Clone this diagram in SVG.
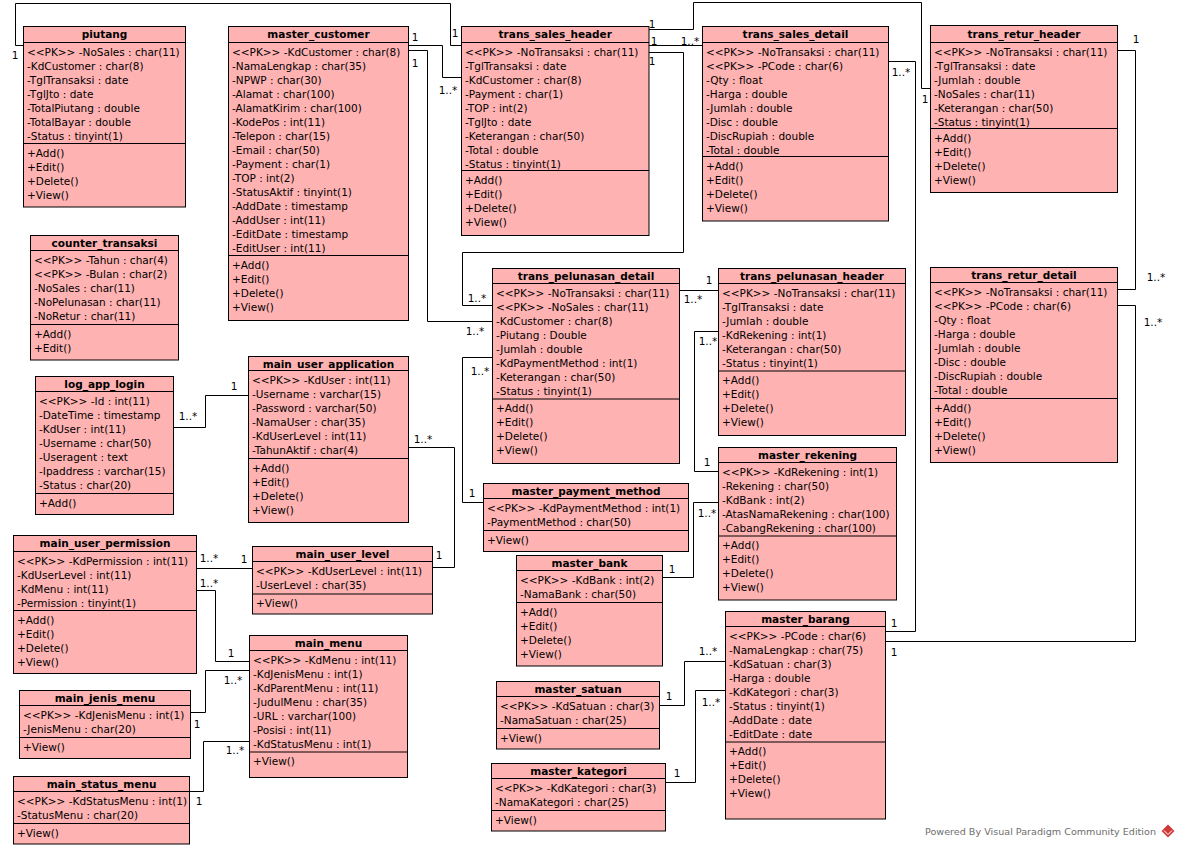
<svg xmlns="http://www.w3.org/2000/svg" width="1180" height="848" viewBox="0 0 1180 848">
<style>
.node rect{fill:#FFB2B2;stroke:#000;stroke-width:1}
.node path{stroke:#000;stroke-width:1;fill:none}
text{font-family:"DejaVu Sans","Liberation Sans",sans-serif;font-size:10.5px;fill:#000}
.h{font-weight:bold;text-anchor:middle}
.conn path{stroke:#000;stroke-width:1;fill:none}
.lbl text{text-anchor:middle}
.wm{font-size:9.5px;fill:#6e6e6e}
</style>
<rect width="1180" height="848" fill="#fff"/>
<g id="connectors" class="conn">
<path d="M23.5 45.5H15.5V3.5H450.5V45.5H461.5"/>
<path d="M408.5 45.5H442.5V77.5H461.5"/>
<path d="M408.5 50.5H427.5V321.5H492.5"/>
<path d="M649 45.5H702.5"/>
<path d="M649 29.5H693.5V2.5H921.5V88.5H930.5"/>
<path d="M649 52.5H683.5V252.5H462.5V305.5H492.5"/>
<path d="M888.5 61.5H915.5V631.5H885.5"/>
<path d="M1117.5 50.5H1135.5V289.5H1117.5"/>
<path d="M1117.5 305.5H1135.5V641.5H885.5"/>
<path d="M679.5 290.5H718.5"/>
<path d="M718.5 331.5H694.5V471.5H718.5"/>
<path d="M492.5 357.5H462.5V502.5H483.5"/>
<path d="M718.5 502.5H693.5V577.5H662.5"/>
<path d="M725.5 661.5H684.5V705.5H659.5"/>
<path d="M725.5 690.5H695.5V782.5H665.5"/>
<path d="M173.5 427.5H205.5V395.5H248.5"/>
<path d="M408.5 447.5H454.5V567.5H432.5"/>
<path d="M196.5 568.5H252.5"/>
<path d="M196.5 590.5H215.5V661.5H249.5"/>
<path d="M190.5 712.5H205.5V670.5H249.5"/>
<path d="M189.5 791.5H203.5V741.5H249.5"/>
<g class="lbl">
<text x="15" y="59">1</text><text x="455" y="37">1</text>
<text x="415" y="41">1</text><text x="448" y="94">1..*</text>
<text x="415" y="67">1</text><text x="475" y="335">1..*</text>
<text x="654" y="44.5">1</text><text x="690" y="45">1..*</text>
<text x="652" y="27.5">1</text><text x="925" y="103">1</text>
<text x="652" y="65">1</text><text x="477" y="302">1..*</text>
<text x="901" y="76">1..*</text><text x="894" y="627">1</text>
<text x="1136" y="43">1</text><text x="1156" y="281">1..*</text>
<text x="1153" y="326">1..*</text><text x="894" y="656">1</text>
<text x="709" y="284">1</text><text x="693" y="303">1..*</text>
<text x="708" y="345">1..*</text><text x="707" y="466">1</text>
<text x="480" y="375">1..*</text><text x="472" y="497">1</text>
<text x="707" y="517">1..*</text><text x="672" y="573">1</text>
<text x="708" y="655">1..*</text><text x="669" y="700">1</text>
<text x="711" y="706">1..*</text><text x="677" y="777">1</text>
<text x="188" y="420">1..*</text><text x="234" y="390">1</text>
<text x="423" y="443">1..*</text><text x="439" y="559">1</text>
<text x="209" y="562">1..*</text><text x="244" y="563">1</text>
<text x="209" y="587">1..*</text><text x="231" y="657">1</text>
<text x="233" y="684">1..*</text><text x="197" y="728">1</text>
<text x="235" y="754">1..*</text><text x="199" y="805">1</text>
</g>
</g>

<g id="piutang" class="node">
<rect x="23.5" y="26.5" width="162" height="180.5"/>
<path d="M23.5 42.5H185.5M23.5 143.5H185.5"/>
<text class="h" x="104.5" y="38">piutang</text>
<text x="27" y="55.5">&lt;&lt;PK&gt;&gt; -NoSales : char(11)</text>
<text x="27" y="69.5">-KdCustomer : char(8)</text>
<text x="27" y="83.5">-TglTransaksi : date</text>
<text x="27" y="97.5">-TglJto : date</text>
<text x="27" y="111.5">-TotalPiutang : double</text>
<text x="27" y="125.5">-TotalBayar : double</text>
<text x="27" y="139.5">-Status : tinyint(1)</text>
<text x="27" y="156.5">+Add()</text>
<text x="27" y="170.5">+Edit()</text>
<text x="27" y="184.5">+Delete()</text>
<text x="27" y="198.5">+View()</text>
</g>

<g id="master_customer" class="node">
<rect x="228.5" y="26.5" width="180" height="294"/>
<path d="M228.5 42.5H408.5M228.5 255.5H408.5"/>
<text class="h" x="318.5" y="38">master_customer</text>
<text x="232" y="55.5">&lt;&lt;PK&gt;&gt; -KdCustomer : char(8)</text>
<text x="232" y="69.5">-NamaLengkap : char(35)</text>
<text x="232" y="83.5">-NPWP : char(30)</text>
<text x="232" y="97.5">-Alamat : char(100)</text>
<text x="232" y="111.5">-AlamatKirim : char(100)</text>
<text x="232" y="125.5">-KodePos : int(11)</text>
<text x="232" y="139.5">-Telepon : char(15)</text>
<text x="232" y="153.5">-Email : char(50)</text>
<text x="232" y="167.5">-Payment : char(1)</text>
<text x="232" y="181.5">-TOP : int(2)</text>
<text x="232" y="195.5">-StatusAktif : tinyint(1)</text>
<text x="232" y="209.5">-AddDate : timestamp</text>
<text x="232" y="223.5">-AddUser : int(11)</text>
<text x="232" y="237.5">-EditDate : timestamp</text>
<text x="232" y="251.5">-EditUser : int(11)</text>
<text x="232" y="268.5">+Add()</text>
<text x="232" y="282.5">+Edit()</text>
<text x="232" y="296.5">+Delete()</text>
<text x="232" y="310.5">+View()</text>
</g>

<g id="trans_sales_header" class="node">
<rect x="461.5" y="26.5" width="187.5" height="209"/>
<path d="M461.5 42.5H649M461.5 170.5H649"/>
<text class="h" x="555.25" y="38">trans_sales_header</text>
<text x="465" y="55.5">&lt;&lt;PK&gt;&gt; -NoTransaksi : char(11)</text>
<text x="465" y="69.5">-TglTransaksi : date</text>
<text x="465" y="83.5">-KdCustomer : char(8)</text>
<text x="465" y="97.5">-Payment : char(1)</text>
<text x="465" y="111.5">-TOP : int(2)</text>
<text x="465" y="125.5">-TglJto : date</text>
<text x="465" y="139.5">-Keterangan : char(50)</text>
<text x="465" y="153.5">-Total : double</text>
<text x="465" y="167.5">-Status : tinyint(1)</text>
<text x="465" y="183.5">+Add()</text>
<text x="465" y="197.5">+Edit()</text>
<text x="465" y="211.5">+Delete()</text>
<text x="465" y="225.5">+View()</text>
</g>

<g id="trans_sales_detail" class="node">
<rect x="702.5" y="26.5" width="186" height="194.5"/>
<path d="M702.5 42.5H888.5M702.5 156.5H888.5"/>
<text class="h" x="795.5" y="38">trans_sales_detail</text>
<text x="706" y="55.5">&lt;&lt;PK&gt;&gt; -NoTransaksi : char(11)</text>
<text x="706" y="69.5">&lt;&lt;PK&gt;&gt; -PCode : char(6)</text>
<text x="706" y="83.5">-Qty : float</text>
<text x="706" y="97.5">-Harga : double</text>
<text x="706" y="111.5">-Jumlah : double</text>
<text x="706" y="125.5">-Disc : double</text>
<text x="706" y="139.5">-DiscRupiah : double</text>
<text x="706" y="153.5">-Total : double</text>
<text x="706" y="169.5">+Add()</text>
<text x="706" y="183.5">+Edit()</text>
<text x="706" y="197.5">+Delete()</text>
<text x="706" y="211.5">+View()</text>
</g>

<g id="trans_retur_header" class="node">
<rect x="930.5" y="25.5" width="187" height="167"/>
<path d="M930.5 42.5H1117.5M930.5 128.5H1117.5"/>
<text class="h" x="1024" y="37.5">trans_retur_header</text>
<text x="934" y="55.5">&lt;&lt;PK&gt;&gt; -NoTransaksi : char(11)</text>
<text x="934" y="69.5">-TglTransaksi : date</text>
<text x="934" y="83.5">-Jumlah : double</text>
<text x="934" y="97.5">-NoSales : char(11)</text>
<text x="934" y="111.5">-Keterangan : char(50)</text>
<text x="934" y="125.5">-Status : tinyint(1)</text>
<text x="934" y="141.5">+Add()</text>
<text x="934" y="155.5">+Edit()</text>
<text x="934" y="169.5">+Delete()</text>
<text x="934" y="183.5">+View()</text>
</g>

<g id="counter_transaksi" class="node">
<rect x="30.5" y="235.5" width="148" height="124.5"/>
<path d="M30.5 250.5H178.5M30.5 324.5H178.5"/>
<text class="h" x="104.5" y="247">counter_transaksi</text>
<text x="34" y="263.5">&lt;&lt;PK&gt;&gt; -Tahun : char(4)</text>
<text x="34" y="277.5">&lt;&lt;PK&gt;&gt; -Bulan : char(2)</text>
<text x="34" y="291.5">-NoSales : char(11)</text>
<text x="34" y="305.5">-NoPelunasan : char(11)</text>
<text x="34" y="319.5">-NoRetur : char(11)</text>
<text x="34" y="337.5">+Add()</text>
<text x="34" y="351.5">+Edit()</text>
</g>

<g id="log_app_login" class="node">
<rect x="35.5" y="376.5" width="138" height="138"/>
<path d="M35.5 391.5H173.5M35.5 493.5H173.5"/>
<text class="h" x="104.5" y="388">log_app_login</text>
<text x="39" y="404.5">&lt;&lt;PK&gt;&gt; -Id : int(11)</text>
<text x="39" y="418.5">-DateTime : timestamp</text>
<text x="39" y="432.5">-KdUser : int(11)</text>
<text x="39" y="446.5">-Username : char(50)</text>
<text x="39" y="460.5">-Useragent : text</text>
<text x="39" y="474.5">-Ipaddress : varchar(15)</text>
<text x="39" y="488.5">-Status : char(20)</text>
<text x="39" y="506.5">+Add()</text>
</g>

<g id="main_user_application" class="node">
<rect x="248.5" y="356.5" width="160" height="166"/>
<path d="M248.5 370.5H408.5M248.5 458.5H408.5"/>
<text class="h" x="328.5" y="367.5">main_user_application</text>
<text x="252" y="383.5">&lt;&lt;PK&gt;&gt; -KdUser : int(11)</text>
<text x="252" y="397.5">-Username : varchar(15)</text>
<text x="252" y="411.5">-Password : varchar(50)</text>
<text x="252" y="425.5">-NamaUser : char(35)</text>
<text x="252" y="439.5">-KdUserLevel : int(11)</text>
<text x="252" y="453.5">-TahunAktif : char(4)</text>
<text x="252" y="471.5">+Add()</text>
<text x="252" y="485.5">+Edit()</text>
<text x="252" y="499.5">+Delete()</text>
<text x="252" y="513.5">+View()</text>
</g>

<g id="trans_pelunasan_detail" class="node">
<rect x="492.5" y="268.5" width="187" height="195"/>
<path d="M492.5 283.5H679.5M492.5 399H679.5"/>
<text class="h" x="586" y="280">trans_pelunasan_detail</text>
<text x="496" y="296.5">&lt;&lt;PK&gt;&gt; -NoTransaksi : char(11)</text>
<text x="496" y="310.5">&lt;&lt;PK&gt;&gt; -NoSales : char(11)</text>
<text x="496" y="324.5">-KdCustomer : char(8)</text>
<text x="496" y="338.5">-Piutang : Double</text>
<text x="496" y="352.5">-Jumlah : double</text>
<text x="496" y="366.5">-KdPaymentMethod : int(1)</text>
<text x="496" y="380.5">-Keterangan : char(50)</text>
<text x="496" y="394.5">-Status : tinyint(1)</text>
<text x="496" y="412">+Add()</text>
<text x="496" y="426">+Edit()</text>
<text x="496" y="440">+Delete()</text>
<text x="496" y="454">+View()</text>
</g>

<g id="trans_pelunasan_header" class="node">
<rect x="718.5" y="268.5" width="187" height="167"/>
<path d="M718.5 283.5H905.5M718.5 371H905.5"/>
<text class="h" x="812" y="280">trans_pelunasan_header</text>
<text x="722" y="296.5">&lt;&lt;PK&gt;&gt; -NoTransaksi : char(11)</text>
<text x="722" y="310.5">-TglTransaksi : date</text>
<text x="722" y="324.5">-Jumlah : double</text>
<text x="722" y="338.5">-KdRekening : int(1)</text>
<text x="722" y="352.5">-Keterangan : char(50)</text>
<text x="722" y="366.5">-Status : tinyint(1)</text>
<text x="722" y="384">+Add()</text>
<text x="722" y="398">+Edit()</text>
<text x="722" y="412">+Delete()</text>
<text x="722" y="426">+View()</text>
</g>

<g id="master_rekening" class="node">
<rect x="718.5" y="447.5" width="178" height="152.5"/>
<path d="M718.5 462.5H896.5M718.5 536H896.5"/>
<text class="h" x="807.5" y="459">master_rekening</text>
<text x="722" y="475.5">&lt;&lt;PK&gt;&gt; -KdRekening : int(1)</text>
<text x="722" y="489.5">-Rekening : char(50)</text>
<text x="722" y="503.5">-KdBank : int(2)</text>
<text x="722" y="517.5">-AtasNamaRekening : char(100)</text>
<text x="722" y="531.5">-CabangRekening : char(100)</text>
<text x="722" y="549">+Add()</text>
<text x="722" y="563">+Edit()</text>
<text x="722" y="577">+Delete()</text>
<text x="722" y="591">+View()</text>
</g>

<g id="master_payment_method" class="node">
<rect x="483.5" y="483.5" width="205" height="68"/>
<path d="M483.5 498.5H688.5M483.5 530.5H688.5"/>
<text class="h" x="586" y="495">master_payment_method</text>
<text x="487" y="511.5">&lt;&lt;PK&gt;&gt; -KdPaymentMethod : int(1)</text>
<text x="487" y="525.5">-PaymentMethod : char(50)</text>
<text x="487" y="543.5">+View()</text>
</g>

<g id="master_bank" class="node">
<rect x="516.5" y="555.5" width="146" height="110.5"/>
<path d="M516.5 570.5H662.5M516.5 602.5H662.5"/>
<text class="h" x="589.5" y="567">master_bank</text>
<text x="520" y="583.5">&lt;&lt;PK&gt;&gt; -KdBank : int(2)</text>
<text x="520" y="597.5">-NamaBank : char(50)</text>
<text x="520" y="615.5">+Add()</text>
<text x="520" y="629.5">+Edit()</text>
<text x="520" y="643.5">+Delete()</text>
<text x="520" y="657.5">+View()</text>
</g>

<g id="master_satuan" class="node">
<rect x="496.5" y="681.5" width="163" height="67.5"/>
<path d="M496.5 696.5H659.5M496.5 728.5H659.5"/>
<text class="h" x="578" y="693">master_satuan</text>
<text x="500" y="709.5">&lt;&lt;PK&gt;&gt; -KdSatuan : char(3)</text>
<text x="500" y="723.5">-NamaSatuan : char(25)</text>
<text x="500" y="741.5">+View()</text>
</g>

<g id="master_kategori" class="node">
<rect x="491.5" y="763.5" width="174" height="67.5"/>
<path d="M491.5 778.5H665.5M491.5 810.5H665.5"/>
<text class="h" x="578.5" y="775">master_kategori</text>
<text x="495" y="791.5">&lt;&lt;PK&gt;&gt; -KdKategori : char(3)</text>
<text x="495" y="805.5">-NamaKategori : char(25)</text>
<text x="495" y="823.5">+View()</text>
</g>

<g id="master_barang" class="node">
<rect x="725.5" y="611.5" width="160" height="207.5"/>
<path d="M725.5 626.5H885.5M725.5 742H885.5"/>
<text class="h" x="805.5" y="623">master_barang</text>
<text x="729" y="639.5">&lt;&lt;PK&gt;&gt; -PCode : char(6)</text>
<text x="729" y="653.5">-NamaLengkap : char(75)</text>
<text x="729" y="667.5">-KdSatuan : char(3)</text>
<text x="729" y="681.5">-Harga : double</text>
<text x="729" y="695.5">-KdKategori : char(3)</text>
<text x="729" y="709.5">-Status : tinyint(1)</text>
<text x="729" y="723.5">-AddDate : date</text>
<text x="729" y="737.5">-EditDate : date</text>
<text x="729" y="755">+Add()</text>
<text x="729" y="769">+Edit()</text>
<text x="729" y="783">+Delete()</text>
<text x="729" y="797">+View()</text>
</g>

<g id="trans_retur_detail" class="node">
<rect x="930.5" y="267.5" width="187" height="195"/>
<path d="M930.5 282.5H1117.5M930.5 398.5H1117.5"/>
<text class="h" x="1024" y="279">trans_retur_detail</text>
<text x="934" y="295.5">&lt;&lt;PK&gt;&gt; -NoTransaksi : char(11)</text>
<text x="934" y="309.5">&lt;&lt;PK&gt;&gt; -PCode : char(6)</text>
<text x="934" y="323.5">-Qty : float</text>
<text x="934" y="337.5">-Harga : double</text>
<text x="934" y="351.5">-Jumlah : double</text>
<text x="934" y="365.5">-Disc : double</text>
<text x="934" y="379.5">-DiscRupiah : double</text>
<text x="934" y="393.5">-Total : double</text>
<text x="934" y="411.5">+Add()</text>
<text x="934" y="425.5">+Edit()</text>
<text x="934" y="439.5">+Delete()</text>
<text x="934" y="453.5">+View()</text>
</g>

<g id="main_user_permission" class="node">
<rect x="13.5" y="535.5" width="183" height="138"/>
<path d="M13.5 551.5H196.5M13.5 610.5H196.5"/>
<text class="h" x="105" y="547">main_user_permission</text>
<text x="17" y="564.5">&lt;&lt;PK&gt;&gt; -KdPermission : int(11)</text>
<text x="17" y="578.5">-KdUserLevel : int(11)</text>
<text x="17" y="592.5">-KdMenu : int(11)</text>
<text x="17" y="606.5">-Permission : tinyint(1)</text>
<text x="17" y="623.5">+Add()</text>
<text x="17" y="637.5">+Edit()</text>
<text x="17" y="651.5">+Delete()</text>
<text x="17" y="665.5">+View()</text>
</g>

<g id="main_user_level" class="node">
<rect x="252.5" y="546.5" width="180" height="67.5"/>
<path d="M252.5 561.5H432.5M252.5 594H432.5"/>
<text class="h" x="342.5" y="558">main_user_level</text>
<text x="256" y="574.5">&lt;&lt;PK&gt;&gt; -KdUserLevel : int(11)</text>
<text x="256" y="588.5">-UserLevel : char(35)</text>
<text x="256" y="607">+View()</text>
</g>

<g id="main_menu" class="node">
<rect x="249.5" y="635.5" width="158" height="142"/>
<path d="M249.5 650.5H407.5M249.5 752H407.5"/>
<text class="h" x="328.5" y="647">main_menu</text>
<text x="253" y="663.5">&lt;&lt;PK&gt;&gt; -KdMenu : int(11)</text>
<text x="253" y="677.5">-KdJenisMenu : int(1)</text>
<text x="253" y="691.5">-KdParentMenu : int(11)</text>
<text x="253" y="705.5">-JudulMenu : char(35)</text>
<text x="253" y="719.5">-URL : varchar(100)</text>
<text x="253" y="733.5">-Posisi : int(11)</text>
<text x="253" y="747.5">-KdStatusMenu : int(1)</text>
<text x="253" y="765">+View()</text>
</g>

<g id="main_jenis_menu" class="node">
<rect x="19.5" y="690.5" width="171" height="68"/>
<path d="M19.5 705.5H190.5M19.5 737.5H190.5"/>
<text class="h" x="105" y="702">main_jenis_menu</text>
<text x="23" y="718.5">&lt;&lt;PK&gt;&gt; -KdJenisMenu : int(1)</text>
<text x="23" y="732.5">-JenisMenu : char(20)</text>
<text x="23" y="750.5">+View()</text>
</g>

<g id="main_status_menu" class="node">
<rect x="13.5" y="776.5" width="176" height="67.5"/>
<path d="M13.5 791.5H189.5M13.5 823.5H189.5"/>
<text class="h" x="101.5" y="788">main_status_menu</text>
<text x="17" y="804.5">&lt;&lt;PK&gt;&gt; -KdStatusMenu : int(1)</text>
<text x="17" y="818.5">-StatusMenu : char(20)</text>
<text x="17" y="836.5">+View()</text>
</g>

<g id="watermark">
<text class="wm" x="925" y="835" textLength="231" lengthAdjust="spacingAndGlyphs">Powered By Visual Paradigm Community Edition</text>
<path d="M1168 824.5L1174.5 831L1168 837.5L1161.5 831Z" fill="#d03a3a"/>
<path d="M1164 830.5L1168 834.5L1172 830.5" stroke="#fff" stroke-width="1" fill="none"/>
</g>
</svg>
